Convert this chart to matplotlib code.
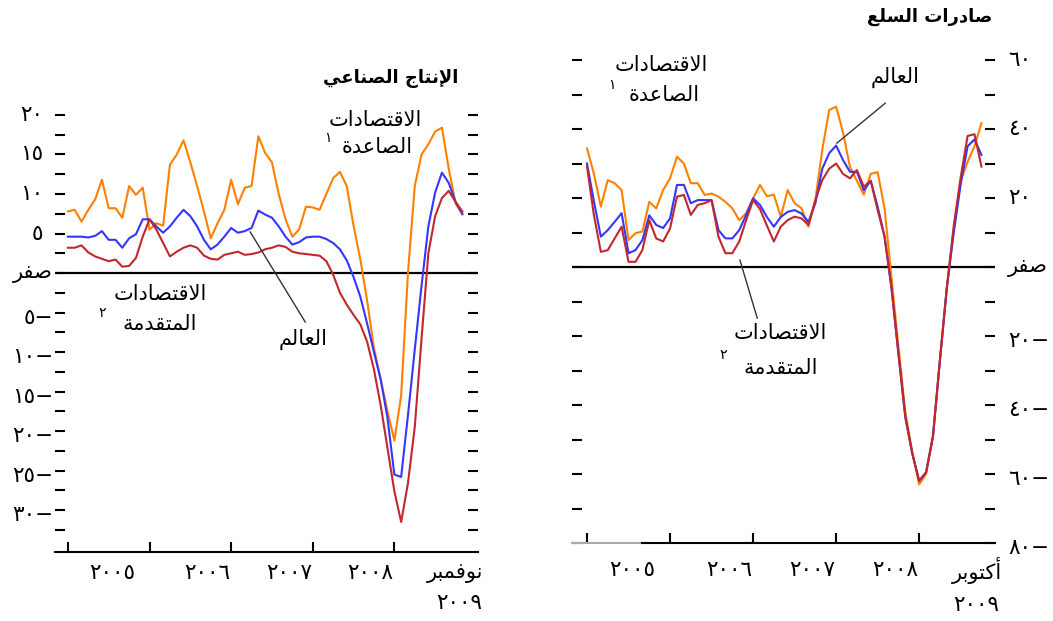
import numpy as np
import matplotlib
matplotlib.use('Agg')
import matplotlib.pyplot as plt

# Monthly series, January 2005 = month 0
# Industrial production (left panel), through November 2009
ip_emerging = [7.8, 8.0, 6.5, 8.0, 9.3, 11.8, 8.2, 8.2, 7.0, 11.0,
               9.9, 10.8, 5.5, 6.3, 6.0, 13.7, 15.0, 16.8, 14.0, 11.0,
               7.8, 4.4, 6.3, 8.0, 11.8, 8.7, 10.8, 11.0, 17.3, 15.2,
               14.0, 10.0, 6.8, 4.6, 5.5, 8.4, 8.3, 8.0, 10.0, 12.0,
               12.8, 11.0, 6.0, 1.7, -3.5, -9.5, -13.5, -17.5, -21.2, -15.5,
               0.0, 11.0, 15.0, 16.3, 17.9, 18.4, 13.2, 8.8, 7.4]
ip_world = [4.6, 4.6, 4.6, 4.5, 4.7, 5.3, 4.2, 4.2, 3.2, 4.4,
            4.9, 6.8, 6.8, 5.9, 5.1, 5.9, 7.0, 8.0, 7.2, 5.9,
            4.2, 3.0, 3.6, 4.6, 5.7, 5.1, 5.3, 5.7, 7.9, 7.4,
            7.0, 5.9, 4.6, 3.6, 3.9, 4.5, 4.6, 4.6, 4.3, 3.8,
            3.0, 1.6, -0.5, -3.0, -6.4, -10.0, -13.5, -18.4, -25.5, -25.8,
            -18.0, -9.7, -1.6, 5.9, 10.2, 12.7, 11.4, 9.0, 7.5]
ip_advanced = [3.2, 3.2, 3.5, 2.6, 2.1, 1.8, 1.5, 1.7, 0.8, 0.9,
               1.9, 4.6, 6.8, 5.5, 3.8, 2.1, 2.7, 3.2, 3.5, 3.2,
               2.2, 1.8, 1.7, 2.3, 2.5, 2.7, 2.3, 2.4, 2.6, 3.0,
               3.2, 3.5, 3.3, 2.7, 2.5, 2.4, 2.3, 2.2, 1.5, -0.2,
               -2.5, -4.0, -5.3, -6.5, -8.7, -12.2, -16.8, -22.2, -27.6, -31.5,
               -26.6, -19.5, -8.3, 2.5, 7.2, 9.5, 10.4, 9.0, 7.8]

# Goods exports (right panel), through October 2009
ex_emerging = [34.4, 27.0, 17.5, 25.2, 24.3, 22.3, 7.8, 9.8, 10.3, 18.9,
               17.0, 22.3, 25.7, 32.0, 30.0, 24.3, 24.3, 20.9, 21.3, 20.4,
               18.9, 17.0, 13.6, 15.6, 19.9, 23.8, 20.5, 21.0, 14.6, 22.3,
               18.5, 17.0, 11.7, 19.4, 34.0, 45.5, 46.5, 39.0, 29.0, 25.0,
               21.0, 27.0, 27.5, 17.0, -3.0, -23.0, -42.0, -53.5, -63.0, -60.0,
               -49.0, -27.0, -6.0, 11.0, 25.0, 30.5, 35.0, 41.7]
ex_world = [30.0, 19.0, 8.8, 10.7, 13.1, 15.6, 4.0, 4.9, 7.8, 15.0,
            12.2, 11.3, 14.1, 23.8, 23.8, 18.5, 19.4, 19.4, 19.4, 10.7,
            8.3, 8.3, 10.7, 15.1, 19.9, 18.0, 14.5, 11.7, 14.5, 16.0,
            16.5, 15.5, 13.1, 18.5, 28.5, 33.0, 35.2, 31.0, 27.6, 27.6,
            22.3, 25.0, 17.5, 8.8, -6.0, -25.0, -43.5, -54.0, -62.0, -59.5,
            -49.0, -27.0, -6.0, 10.0, 24.0, 35.0, 37.0, 32.5]
ex_advanced = [29.1, 15.0, 4.4, 4.9, 8.3, 11.7, 1.5, 1.5, 4.9, 13.6,
               8.3, 7.4, 11.2, 20.4, 20.9, 15.1, 18.0, 18.5, 19.4, 8.8,
               4.0, 4.0, 7.4, 13.6, 19.4, 16.8, 12.0, 7.4, 11.7, 13.6,
               14.6, 14.1, 12.2, 19.4, 25.2, 28.5, 30.0, 27.0, 25.7, 28.1,
               23.3, 25.0, 16.5, 8.8, -6.0, -25.0, -43.5, -54.0, -62.0, -59.5,
               -49.0, -27.0, -6.0, 12.0, 26.0, 38.0, 38.5, 29.1]

year_labels = ['٢٠٠٥', '٢٠٠٦', '٢٠٠٧', '٢٠٠٨']
year_label_pos = [6.5, 20.5, 32.5, 44.5]
year_ticks = [0, 12, 24, 36, 48]
ip_ylabels = [20, 15, 10, 5, 0, -5, -10, -15, -20, -25, -30]
ex_ylabels = [60, 40, 20, 0, -20, -40, -60, -80]

ORANGE = '#FF8000'
BLUE = '#3535FF'
RED = '#C0282D'

# --- minimal Arabic shaping: matplotlib lays glyphs out left to right with no
# contextual forms, so map letters to presentation forms and reverse.
_DUAL = {'ب': 0xFE8F, 'ت': 0xFE95, 'ث': 0xFE99, 'ج': 0xFE9D, 'ح': 0xFEA1,
         'خ': 0xFEA5, 'س': 0xFEB1, 'ش': 0xFEB5, 'ص': 0xFEB9, 'ض': 0xFEBD,
         'ط': 0xFEC1, 'ظ': 0xFEC5, 'ع': 0xFEC9, 'غ': 0xFECD, 'ف': 0xFED1,
         'ق': 0xFED5, 'ك': 0xFED9, 'ل': 0xFEDD, 'م': 0xFEE1, 'ن': 0xFEE5,
         'ه': 0xFEE9, 'ي': 0xFEF1}
_RIGHT = {'ا': 0xFE8D, 'أ': 0xFE83, 'إ': 0xFE87, 'آ': 0xFE81, 'ة': 0xFE93,
          'د': 0xFEA9, 'ذ': 0xFEAB, 'ر': 0xFEAD, 'ز': 0xFEAF, 'و': 0xFEED,
          'ى': 0xFEEF}
_LAM_ALEF = {'آ': 0xFEF5, 'أ': 0xFEF7, 'إ': 0xFEF9, 'ا': 0xFEFB}
FORMS = {c: tuple(range(b, b + 4)) for c, b in _DUAL.items()}
FORMS.update({c: (b, b + 1) for c, b in _RIGHT.items()})
AR_DIGITS = str.maketrans('0123456789', '٠١٢٣٤٥٦٧٨٩')


def ar(text):
    tokens = []
    i = 0
    while i < len(text):
        c = text[i]
        if c == 'ل' and i + 1 < len(text) and text[i + 1] in _LAM_ALEF:
            b = _LAM_ALEF[text[i + 1]]
            tokens.append((b, b + 1))
            i += 2
        else:
            tokens.append(FORMS.get(c, c))
            i += 1
    out = []
    for k, t in enumerate(tokens):
        if isinstance(t, str):
            out.append(t)
            continue
        prev = tokens[k - 1] if k > 0 else None
        nxt = tokens[k + 1] if k + 1 < len(tokens) else None
        joins_prev = isinstance(prev, tuple) and len(prev) == 4
        joins_next = len(t) == 4 and isinstance(nxt, tuple)
        out.append(chr(t[2 * joins_next + joins_prev]))
    return ''.join(reversed(out))


def num_label(v):
    if v == 0:
        return ar('صفر')
    s = str(abs(v)).translate(AR_DIGITS)
    return s + '−' if v < 0 else s


plt.rcParams['font.family'] = ['DejaVu Sans']
FS = 15      # Arabic words
FD = 15.5    # numbers
FSUP = 10    # footnote marks

fig = plt.figure(figsize=(10.53, 6.21), dpi=100)
ax1 = fig.add_axes([55 / 1053, 69 / 621, 423 / 1053, 456 / 621])
ax2 = fig.add_axes([572 / 1053, 78 / 621, 423 / 1053, 504 / 621])


def style_axes(ax):
    for s in ('left', 'right', 'top'):
        ax.spines[s].set_visible(False)
    ax.spines['bottom'].set_linewidth(1.5)
    ax.axhline(0, color='black', lw=1.6, zorder=1)
    ax.set_xticks(year_ticks)
    ax.tick_params(axis='x', direction='in', length=7, width=1.5,
                   labelbottom=False)
    ax.tick_params(axis='y', direction='in', length=7.5, width=1.5,
                   left=True, right=True, labelleft=False, labelright=False)


# ---------------- industrial production ----------------
m_ip = np.arange(len(ip_world))
ax1.plot(m_ip, ip_emerging, color=ORANGE, lw=1.5)
ax1.plot(m_ip, ip_world, color=BLUE, lw=1.5)
ax1.plot(m_ip, ip_advanced, color=RED, lw=1.5)
ax1.set_xlim(-1.9, 60.3)
ax1.set_ylim(-35.3, 22.4)
style_axes(ax1)
ax1.set_yticks(np.arange(-32.5, 20.1, 2.5))
ax1.xaxis.get_major_ticks()[2].tick1line.set_color('#aaaaaa')

for v in ip_ylabels:
    ax1.annotate(num_label(v), xy=(0, v), xycoords=('axes fraction', 'data'),
                 xytext=(-2 if v <= 0 else -12, -5 if v < 0 else 0),
                 textcoords='offset pixels', ha='right', va='center',
                 fontsize=FS if v == 0 else FD)
for lab, pos in zip(year_labels, year_label_pos):
    ax1.annotate(lab, xy=(pos, 0), xycoords=('data', 'axes fraction'),
                 xytext=(0, -21), textcoords='offset pixels',
                 ha='center', va='center', fontsize=FD)
ax1.annotate(ar('نوفمبر'), xy=(57, 0), xycoords=('data', 'axes fraction'),
             xytext=(0, -21), textcoords='offset pixels',
             ha='center', va='center', fontsize=FS)
ax1.annotate('٢٠٠٩', xy=(57.5, 0), xycoords=('data', 'axes fraction'),
             xytext=(0, -51), textcoords='offset pixels',
             ha='center', va='center', fontsize=FD)

ax1.text(52.1, 19.4, ar('الاقتصادات'), ha='right', va='center', fontsize=FS)
ax1.text(50.7, 16.0, ar('الصاعدة'), ha='right', va='center', fontsize=FS)
ax1.text(38.2, 17.1, '١', ha='center', va='center', fontsize=FSUP)
ax1.text(20.4, -2.7, ar('الاقتصادات'), ha='right', va='center', fontsize=FS)
ax1.text(19.0, -6.5, ar('المتقدمة'), ha='right', va='center', fontsize=FS)
ax1.text(5.1, -5.0, '٢', ha='center', va='center', fontsize=FSUP)
ax1.text(38.2, -8.4, ar('العالم'), ha='right', va='center', fontsize=FS)
ax1.plot([26.8, 34.9], [5.2, -6.2], color='#333333', lw=1)

# ---------------- goods exports ----------------
m_ex = np.arange(len(ex_world))
ax2.plot(m_ex, ex_emerging, color=ORANGE, lw=1.5)
ax2.plot(m_ex, ex_world, color=BLUE, lw=1.5)
ax2.plot(m_ex, ex_advanced, color=RED, lw=1.5)
ax2.set_xlim(-2.17, 58.96)
ax2.set_ylim(-80, 66.1)
style_axes(ax2)
ax2.set_yticks(np.arange(-80, 61, 10))
ax2.xaxis.get_major_ticks()[0].tick1line.set_color('#aaaaaa')
ax2.spines['bottom'].set_bounds(8, 58.96)
ax2.plot([-2.17, 8], [-80, -80], color='#aaaaaa', lw=1.5, clip_on=False)

for v in ex_ylabels:
    ax2.annotate(num_label(v), xy=(1, v), xycoords=('axes fraction', 'data'),
                 xytext=(13, -5 if v < 0 else 0), textcoords='offset pixels',
                 ha='left', va='center', fontsize=FS if v == 0 else FD)
for lab, pos in zip(year_labels, year_label_pos):
    ax2.annotate(lab, xy=(pos, 0), xycoords=('data', 'axes fraction'),
                 xytext=(0, -27), textcoords='offset pixels',
                 ha='center', va='center', fontsize=FD)
ax2.annotate(ar('أكتوبر'), xy=(56.4, 0), xycoords=('data', 'axes fraction'),
             xytext=(0, -27), textcoords='offset pixels',
             ha='center', va='center', fontsize=FS)
ax2.annotate('٢٠٠٩', xy=(56.3, 0), xycoords=('data', 'axes fraction'),
             xytext=(0, -62), textcoords='offset pixels',
             ha='center', va='center', fontsize=FD)

ax2.text(17.5, 58.6, ar('الاقتصادات'), ha='right', va='center', fontsize=FS)
ax2.text(16.3, 49.9, ar('الصاعدة'), ha='right', va='center', fontsize=FS)
ax2.text(3.6, 52.8, '١', ha='center', va='center', fontsize=FSUP)
ax2.text(48.1, 55.1, ar('العالم'), ha='right', va='center', fontsize=FS)
ax2.plot([43.1, 36.1], [47.5, 35.9], color='#333333', lw=1)
ax2.text(34.7, -19.1, ar('الاقتصادات'), ha='right', va='center', fontsize=FS)
ax2.text(33.4, -29.3, ar('المتقدمة'), ha='right', va='center', fontsize=FS)
ax2.text(19.7, -25.5, '٢', ha='center', va='center', fontsize=FSUP)
ax2.plot([22.1, 24.6], [2.0, -14.8], color='#333333', lw=1)

fig.text(458 / 1053, 1 - 78 / 621, ar('الإنتاج الصناعي'), ha='right',
         va='center', fontsize=13, fontweight='bold')
fig.text(992 / 1053, 1 - 17 / 621, ar('صادرات السلع'), ha='right',
         va='center', fontsize=13, fontweight='bold')

fig.savefig('out.png', dpi=100)
